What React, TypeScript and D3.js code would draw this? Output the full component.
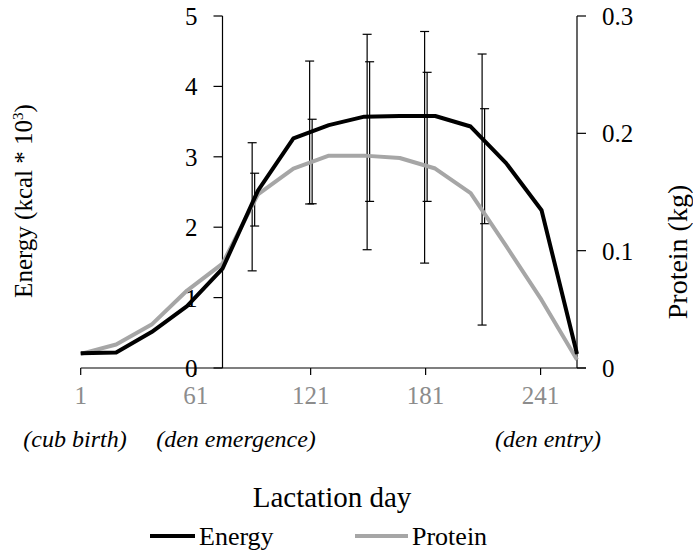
import React from "react";
import * as d3 from "d3";

const days = [1, 19.5, 38, 56.5, 75, 93.5, 112, 130.5, 149, 167.5, 186, 204.5, 223, 241.5, 260];
const energy = [0.21, 0.22, 0.51, 0.88, 1.41, 2.52, 3.26, 3.45, 3.57, 3.58, 3.58, 3.43, 2.91, 2.24, 0.2];
const protein = [0.012, 0.02, 0.037, 0.066, 0.089, 0.148, 0.17, 0.181, 0.181, 0.179, 0.17, 0.149, 0.104, 0.058, 0.007];

const errDays = [91, 121, 151, 181, 211];
const energyErrHigh = [3.2, 4.36, 4.74, 4.78, 4.46];
const energyErrLow = [1.38, 2.33, 1.68, 1.49, 0.61];
const proteinErrHigh = [0.166, 0.212, 0.261, 0.252, 0.221];
const proteinErrLow = [0.121, 0.14, 0.142, 0.142, 0.123];

const xTicks = [1, 61, 121, 181, 241];
const leftTicks = [0, 1, 2, 3, 4, 5];
const rightTicks = [0, 0.1, 0.2, 0.3];
const annotations = [
  { text: "(cub birth)", x: 75 },
  { text: "(den emergence)", x: 236 },
  { text: "(den entry)", x: 548 },
];

const FONT = "Liberation Serif, DejaVu Serif, Times New Roman, serif";

export default function App() {
  const width = 693;
  const height = 552;
  const x = d3.scaleLinear().domain([1, 260]).range([80.7, 577]);
  const yL = d3.scaleLinear().domain([0, 5]).range([368, 16]);
  const yR = d3.scaleLinear().domain([0, 0.3]).range([368, 16]);
  const leftAxisX = x(75);
  const rightAxisX = x(260);
  const y0 = yL(0);

  const energyLine = d3
    .line<number>()
    .x((_, i) => x(days[i]))
    .y((d) => yL(d));
  const proteinLine = d3
    .line<number>()
    .x((_, i) => x(days[i]))
    .y((d) => yR(d));

  const cap = 4.5;
  const fs = 25;
  const tf = { fontFamily: FONT } as React.CSSProperties;

  return (
    <svg width={width} height={height} style={{ position: "absolute", left: 0, top: 0, background: "#fff", fontFamily: FONT }}>
      <rect width={width} height={height} fill="#fff" />
      {/* x axis */}
      <line x1={x(1)} x2={rightAxisX + 9} y1={y0} y2={y0} stroke="#000" strokeWidth={1.2} />
      {xTicks.map((t) => (
        <g key={t}>
          <line x1={x(t)} x2={x(t)} y1={y0} y2={y0 + 7} stroke="#000" strokeWidth={1.2} />
          <text x={x(t)} y={404} textAnchor="middle" style={tf} fontSize={fs} fill="#8c8c8c">
            {t}
          </text>
        </g>
      ))}
      {/* left axis */}
      <line x1={leftAxisX} x2={leftAxisX} y1={yL(5)} y2={y0} stroke="#000" strokeWidth={1.2} />
      {leftTicks.map((t) => (
        <g key={t}>
          <line x1={leftAxisX - 9} x2={leftAxisX} y1={yL(t)} y2={yL(t)} stroke="#000" strokeWidth={1.2} />
          <text x={leftAxisX - 25} y={yL(t) + 9} textAnchor="end" style={tf} fontSize={fs} fill="#000">
            {t}
          </text>
        </g>
      ))}
      {/* right axis */}
      <line x1={rightAxisX} x2={rightAxisX} y1={yR(0.3)} y2={y0} stroke="#000" strokeWidth={1.2} />
      {rightTicks.map((t) => (
        <g key={t}>
          <line x1={rightAxisX} x2={rightAxisX + 9} y1={yR(t)} y2={yR(t)} stroke="#000" strokeWidth={1.2} />
          <text x={rightAxisX + 25} y={yR(t) + 9} textAnchor="start" style={tf} fontSize={fs} fill="#000">
            {t === 0 ? "0" : t.toFixed(1)}
          </text>
        </g>
      ))}
      {/* error bars */}
      {errDays.map((d, i) => {
        const cx = x(d) - 1;
        return (
          <g key={"e" + d} stroke="#000" strokeWidth={1.2}>
            <line x1={cx} x2={cx} y1={yL(energyErrHigh[i])} y2={yL(energyErrLow[i])} />
            <line x1={cx - cap} x2={cx + cap} y1={yL(energyErrHigh[i])} y2={yL(energyErrHigh[i])} />
            <line x1={cx - cap} x2={cx + cap} y1={yL(energyErrLow[i])} y2={yL(energyErrLow[i])} />
          </g>
        );
      })}
      {errDays.map((d, i) => {
        const cx = x(d) + 1.5;
        return (
          <g key={"p" + d} stroke="#000" strokeWidth={1.2}>
            <line x1={cx} x2={cx} y1={yR(proteinErrHigh[i])} y2={yR(proteinErrLow[i])} />
            <line x1={cx - cap} x2={cx + cap} y1={yR(proteinErrHigh[i])} y2={yR(proteinErrHigh[i])} />
            <line x1={cx - cap} x2={cx + cap} y1={yR(proteinErrLow[i])} y2={yR(proteinErrLow[i])} />
          </g>
        );
      })}
      {/* lines */}
      <path d={proteinLine(protein) || ""} fill="none" stroke="#a6a6a6" strokeWidth={4} strokeLinejoin="round" />
      <path d={energyLine(energy) || ""} fill="none" stroke="#000" strokeWidth={4} strokeLinejoin="round" />
      {/* axis titles */}
      <text transform={`translate(32,201) rotate(-90)`} textAnchor="middle" style={tf} fontSize={fs} fill="#000">
        Energy (kcal * 10<tspan dy={-9} fontSize={15}>3</tspan>
        <tspan dy={9}>)</tspan>
      </text>
      <text transform={`translate(687,252) rotate(-90)`} textAnchor="middle" style={tf} fontSize={28} fill="#000">
        Protein (kg)
      </text>
      {annotations.map((a) => (
        <text key={a.text} x={a.x} y={447} textAnchor="middle" style={tf} fontSize={24} fontStyle="italic" fill="#000">
          {a.text}
        </text>
      ))}
      <text x={332} y={507} textAnchor="middle" style={tf} fontSize={29} fill="#000">
        Lactation day
      </text>
      {/* legend */}
      <line x1={150} x2={195} y1={536} y2={536} stroke="#000" strokeWidth={4} />
      <text x={199} y={545} style={tf} fontSize={26} fill="#000">Energy</text>
      <line x1={355} x2={408} y1={536} y2={536} stroke="#a6a6a6" strokeWidth={4} />
      <text x={412} y={545} style={tf} fontSize={26} fill="#000">Protein</text>
    </svg>
  );
}
